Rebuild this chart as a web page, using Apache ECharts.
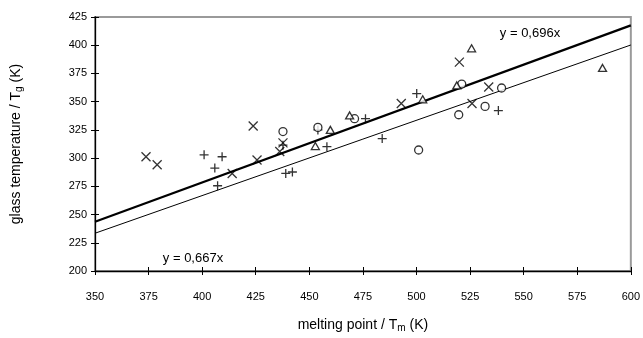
<!DOCTYPE html>
<html>
<head>
<meta charset="utf-8">
<script src="https://cdn.jsdelivr.net/npm/echarts@6/dist/echarts.min.js"></script>
<style>
  html, body { margin: 0; padding: 0; background: #fff; }
  #chart { width: 643px; height: 338px; }
</style>
</head>
<body>
<div id="chart"></div>
<script>
// measured points [Tm, Tg] per marker type
const crossPts = [[373.8, 301.2], [379, 294.1], [414, 286.4], [425.6, 298.4], [423.8, 328.4], [436.2, 305.8],
  [437.7, 313.5], [492.9, 348.4], [525.9, 348.4], [520, 385], [533.7, 363]]
const plusPts = [[400.9, 302.9], [409.3, 301.2], [405.9, 291.2], [407.2, 275.5], [437.7, 311.5], [439, 286.4],
  [442.1, 287.7], [458.2, 310.1], [454, 325], [476.2, 334.9], [484, 317.3], [500.1, 357.2], [538.2, 342.1]]
const circlePts = [[437.7, 323.5], [454, 327.2], [471.1, 334.9], [501, 307.2], [519.7, 338.4], [521.1, 365.6],
  [539.7, 362.1], [532, 345.8]]
const trianglePts = [[452.8, 310.7], [459.8, 325], [468.8, 337.8], [502.9, 352.1], [525.7, 397.3], [518.8, 364.4],
  [586.8, 379.9]]

// fitted lines through origin, y = k·x
const fitSlopes = [0.696, 0.667]
const fitLabels = ['y = 0,696x', 'y = 0,667x']
const xRange = [350, 600]

const FONT = '"Liberation Sans", Arial, sans-serif'

const chart = echarts.init(document.getElementById('chart'))

const markerStyle = { color: 'none', borderColor: '#000', borderWidth: 1.3 }

const scatter = (data, symbol, size, extra) => ({
  type: 'scatter',
  data,
  symbol,
  symbolSize: size,
  symbolKeepAspect: true,
  itemStyle: Object.assign({}, markerStyle, extra || {}),
  z: 5,
})

const fitLine = (k, width) => ({
  type: 'line',
  data: xRange.map(x => [x, +(k * x).toFixed(2)]),
  symbol: 'none',
  lineStyle: { color: '#000', width },
  z: 3,
})

const titleRich = {
  n: { fontSize: 14, fontFamily: FONT, color: '#000', lineHeight: 16 },
  s: { fontSize: 10, fontFamily: FONT, color: '#000', lineHeight: 16, verticalAlign: 'bottom', padding: [6, 0, 0, 0] },
}

// inner half of the crossing ticks
const innerTicks = {
  type: 'value', interval: 25,
  axisLine: { show: false },
  axisTick: { show: true, inside: true, length: 4, lineStyle: { color: '#000' } },
  axisLabel: { show: false },
  splitLine: { show: false },
}

const option = {
  backgroundColor: '#fff',
  animation: false,
  grid: {
    left: 95, right: 11, top: 17, bottom: 59,
    show: true, borderColor: '#9a9a9a', borderWidth: 2,
  },
  xAxis: [
    {
      type: 'value', min: 350, max: 600, interval: 25,
      axisLine: { show: true, lineStyle: { color: '#000', width: 1.3 } },
      axisTick: { show: true, length: 4, lineStyle: { color: '#000' } },
      axisLabel: { color: '#000', fontSize: 11, fontFamily: FONT, margin: 20 },
      splitLine: { show: false },
      name: '{n|melting point / T}{s|m}{n| (K)}',
      nameLocation: 'middle',
      nameGap: 46,
      nameTextStyle: { rich: titleRich },
    },
    Object.assign({}, innerTicks, { min: 350, max: 600, position: 'bottom' }),
  ],
  yAxis: [
    {
      type: 'value', min: 200, max: 425, interval: 25,
      axisLine: { show: true, lineStyle: { color: '#000', width: 1.3 } },
      axisTick: { show: true, length: 4, lineStyle: { color: '#000' } },
      axisLabel: { color: '#000', fontSize: 11, fontFamily: FONT, margin: 8 },
      splitLine: { show: false },
      name: '{n|glass temperature / T}{s|g}{n| (K)}',
      nameLocation: 'middle',
      nameGap: 71,
      nameTextStyle: { rich: titleRich },
    },
    Object.assign({}, innerTicks, { min: 200, max: 425, position: 'left' }),
  ],
  series: [
    fitLine(fitSlopes[0], 2.2),
    fitLine(fitSlopes[1], 1),
    scatter(crossPts, 'path://M0,0L10,10M10,0L0,10', 9),
    scatter(plusPts, 'path://M5,0L5,10M0,5L10,5', 9),
    scatter(circlePts, 'circle', 8, { color: '#fff' }),
    scatter(trianglePts, 'triangle', [8, 7], { color: '#fff' }),
  ],
  graphic: [
    {
      type: 'text', x: 530, y: 33, z: 10,
      style: { text: fitLabels[0], font: '13px ' + FONT, fill: '#000', align: 'center', verticalAlign: 'middle' },
    },
    {
      type: 'text', x: 193, y: 258, z: 10,
      style: { text: fitLabels[1], font: '13px ' + FONT, fill: '#000', align: 'center', verticalAlign: 'middle' },
    },
  ],
}

chart.setOption(option)
</script>
</body>
</html>
